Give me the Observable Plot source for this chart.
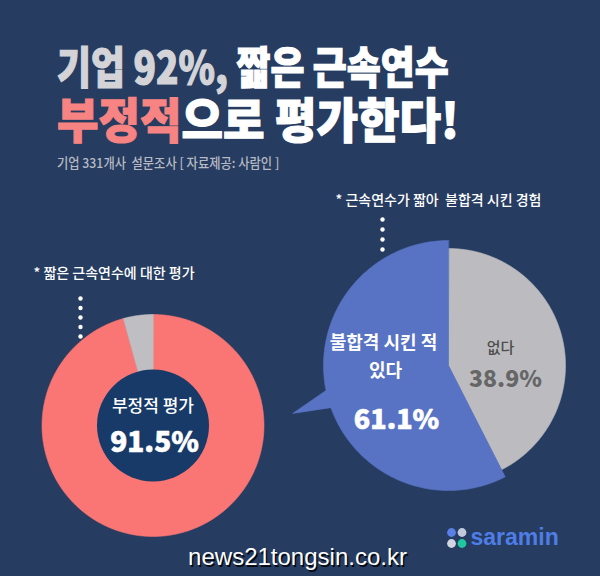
<!DOCTYPE html>
<html><head><meta charset="utf-8">
<script src="https://cdn.jsdelivr.net/npm/d3@7"></script>
<script src="https://cdn.jsdelivr.net/npm/@observablehq/plot@0.6"></script>
<style>
html,body{margin:0;padding:0;background:#263c60;}
#page{width:600px;height:576px;position:relative;overflow:hidden;background:#263c60;font-family:'Noto Sans CJK KR','Noto Sans',sans-serif;}
#header{position:relative;height:180px;}
.t{position:absolute;white-space:nowrap;transform-origin:0 0;font-weight:900;color:#fff;overflow:visible;}
.t span{display:inline-block;}
.big{-webkit-text-stroke:1.2px;}
#chart svg{display:block;}
#chart text{white-space:pre;}
</style></head><body>
<div id="page">
<div id="header">
 <div class="t big" style="left:57px;top:43px;height:44px;font-size:44px;line-height:44px;transform:scaleX(0.84)"><span style="color:#d4d4d8;line-height:40px;height:40px">기업 92%,</span><span style="line-height:40px;height:40px">&nbsp;짧은 근속연수</span></div>
 <div class="t big" style="left:57px;top:93px;height:48px;font-size:48px;line-height:48px;transform:scaleX(0.94)"><span style="color:#f78482;line-height:44px;height:44px">부정적</span><span style="line-height:44px;height:44px">으로 평가한다!</span></div>
 <div class="t" style="left:57px;top:156px;font-size:13.5px;line-height:13.5px;font-weight:500;color:#b7bac4;transform:scaleX(0.91)">기업 331개사&nbsp; 설문조사 [ 자료제공: 사람인 ]</div>
</div>
<div id="chart"></div>
</div>
<script>
// ---- data ----
const leftCategories = ["부정적 평가", "기타"];
const leftValues = [95.7, 4.3];            // slice shares as drawn
const leftLabels = ["부정적 평가", "91.5%"];
const leftCaption = "* 짧은 근속연수에 대한 평가";

const rightCategories = ["없다", "불합격 시킨 적 있다"];
const rightValues = [42.5, 57.5];          // slice shares as drawn
const rightNoLabel = ["없다", "38.9%"];
const rightYesLabel = ["불합격 시킨 적", "있다", "61.1%"];
const rightCaption = "* 근속연수가 짧아  불합격 시킨 경험";

const watermark = ["news21tongsin.co.kr"];
const brand = ["saramin"];

// ---- layout ----
const W = 600, H = 396, TOP = 180;
const leftCenter = {x: 152.5, y: 425};
const rightCenter = {x: 448, y: 365};
const deg = Math.PI / 180;

function slicePoints(cx, cy, a0, a1, R, tail) {
  const pt = (a, r) => ({x: cx + r * Math.sin(a * deg), y: cy - r * Math.cos(a * deg)});
  const pts = [{x: cx, y: cy}];
  const n = Math.max(2, Math.ceil((a1 - a0) / 0.5));
  let tailDone = false;
  for (let i = 0; i <= n; i++) {
    const a = a0 + (a1 - a0) * i / n;
    if (tail && a > tail.from && a < tail.to) {
      if (!tailDone) {
        pts.push(pt(tail.from, R), pt(tail.tip, tail.reach), pt(tail.to, R));
        tailDone = true;
      }
      continue;
    }
    pts.push(pt(a, R));
  }
  return pts;
}

function pieSlices(values, cx, cy, radii, colors, tails) {
  const total = d3.sum(values);
  let acc = 0;
  return values.map((v, i) => {
    const a0 = acc / total * 360; acc += v;
    const a1 = acc / total * 360;
    return {color: colors[i], points: slicePoints(cx, cy, a0, a1, radii[i], tails[i])};
  });
}

const leftSlices = pieSlices(leftValues, leftCenter.x, leftCenter.y, [111, 111],
  ["#f97674", "#bfbfc3"], [null, null]);
const rightSlices = pieSlices(rightValues, rightCenter.x, rightCenter.y, [117, 125],
  ["#bcbcc0", "#5873c4"], [null, {from: 250.3, tip: 252.9, to: 258.5, reach: 163}]);

const sliceMarks = [...leftSlices, ...rightSlices].map(s =>
  Plot.line(s.points, {x: "x", y: "y", fill: s.color, stroke: s.color, strokeWidth: 0.6, curve: "linear-closed"}));

const leftDots = d3.range(5).map(i => ({x: 80, y: 298 + i * 9.5}));
const rightDots = d3.range(4).map(i => ({x: 382, y: 219 + i * 10}));
const logoDots = [
  {x: 451, y: 532, c: "#5a80e8"}, {x: 461.5, y: 532, c: "#c3c9dd"},
  {x: 451, y: 543, c: "#d2d5e2"}, {x: 461.5, y: 543, c: "#20c8a2"}
];

const K = "'Noto Sans CJK KR','Noto Sans',sans-serif";
const L = "'Liberation Sans',Arial,sans-serif";

const chart = Plot.plot({
  width: W, height: H,
  marginTop: 0, marginRight: 0, marginBottom: 0, marginLeft: 0,
  x: {type: "linear", domain: [0, W], range: [0, W], axis: null},
  y: {type: "linear", domain: [TOP, TOP + H], range: [0, H], axis: null},
  style: {background: "transparent", fontFamily: K},
  marks: [
    Plot.text([leftCaption], {x: () => 33, y: () => 273, text: d => d, textAnchor: "start", fill: "#ffffff", fontSize: 14, fontWeight: 500, fontFamily: K}),
    Plot.text([rightCaption], {x: () => 335, y: () => 200, text: d => d, textAnchor: "start", fill: "#ffffff", fontSize: 14, fontWeight: 500, fontFamily: K}),
    Plot.dot(leftDots, {x: "x", y: "y", r: 2.2, fill: "#ffffff", stroke: null}),
    Plot.dot(rightDots, {x: "x", y: "y", r: 2.2, fill: "#ffffff", stroke: null}),
    ...sliceMarks,
    Plot.dot([leftCenter], {x: "x", y: "y", r: 56, fill: "#183a68", stroke: null}),
    Plot.text([leftLabels[0]], {x: () => leftCenter.x, y: () => 406, text: d => d, fill: "#ffffff", fontSize: 17, fontWeight: 500, fontFamily: K}),
    Plot.text([leftLabels[1]], {x: () => leftCenter.x + 1.5, y: () => 443, text: d => d, fill: "#ffffff", stroke: "#ffffff", strokeWidth: 0.6, fontSize: 28, fontWeight: 900, fontFamily: K}),
    Plot.text([rightYesLabel[0]], {x: () => 383, y: () => 343, text: d => d, fill: "#ffffff", fontSize: 18, fontWeight: 700, fontFamily: K}),
    Plot.text([rightYesLabel[1]], {x: () => 385, y: () => 371, text: d => d, fill: "#ffffff", fontSize: 18, fontWeight: 700, fontFamily: K}),
    Plot.text([rightYesLabel[2]], {x: () => 396, y: () => 420, text: d => d, fill: "#ffffff", stroke: "#ffffff", strokeWidth: 0.6, fontSize: 27, fontWeight: 900, fontFamily: K}),
    Plot.text([rightNoLabel[0]], {x: () => 500, y: () => 348, text: d => d, fill: "#4d4d4d", fontSize: 15, fontWeight: 500, fontFamily: K}),
    Plot.text([rightNoLabel[1]], {x: () => 505, y: () => 379, text: d => d, fill: "#666666", fontSize: 23, fontWeight: 900, fontFamily: K}),
    Plot.text(watermark, {x: () => 297, y: () => 557, text: d => d, fill: "#000000", fillOpacity: 0.85, dx: 1.5, dy: 1.5, fontSize: 24, fontFamily: L}),
    Plot.text(watermark, {x: () => 297, y: () => 557, text: d => d, fill: "#ffffff", fontSize: 24, fontFamily: L}),
    Plot.dot(logoDots, {x: "x", y: "y", r: 4.4, fill: "c", stroke: null}),
    Plot.text(brand, {x: () => 470, y: () => 537, text: d => d, textAnchor: "start", fill: "#4f7de6", fontSize: 23, fontWeight: 700, fontFamily: L})
  ]
});
document.getElementById("chart").appendChild(chart);
</script>
</body></html>
